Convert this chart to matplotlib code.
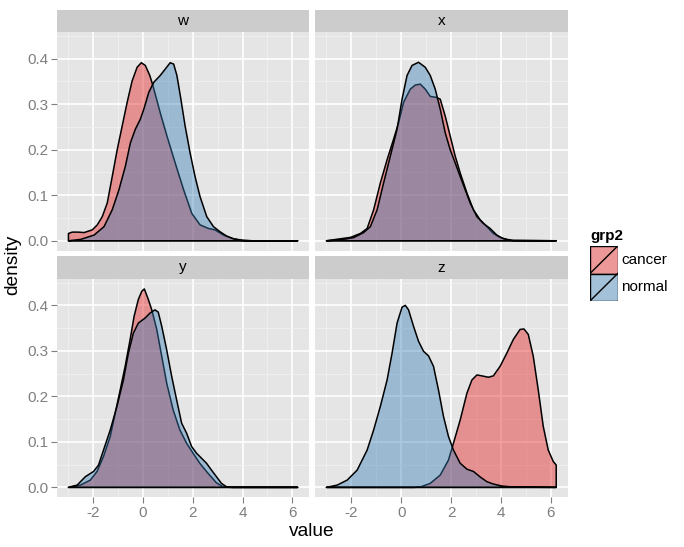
"""plot.py - faceted density plot, ggplot2 look"""

import matplotlib

matplotlib.use("Agg")
import matplotlib.pyplot as plt
from matplotlib.colors import to_rgba
from matplotlib.patches import Rectangle
import numpy as np

plt.rcParams["font.family"] = ["Liberation Sans", "DejaVu Sans"]

facets = ["w", "x", "y", "z"]
groups = ["cancer", "normal"]
group_colors = {"cancer": "#E41A1C", "normal": "#377EB8"}

# density curves (value, density)
w_cancer_x = [-3.0, -2.85, -2.6, -2.37, -2.04, -1.84, -1.64, -1.44, -1.24, -1.04, -0.84, -0.64, -0.44,
              -0.24, -0.07, 0.09, 0.27, 0.4, 0.69, 0.96, 1.29, 1.63, 1.96, 2.29, 2.63, 2.89, 3.23,
              3.63, 4.03, 4.4, 6.21]
w_cancer_d = [0.016, 0.019, 0.019, 0.018, 0.024, 0.035, 0.053, 0.083, 0.141, 0.2, 0.252, 0.304, 0.351,
              0.381, 0.391, 0.385, 0.363, 0.34, 0.281, 0.23, 0.171, 0.112, 0.06, 0.035, 0.027, 0.024,
              0.0125, 0.0044, 0.001, 0.0, 0.0]
w_normal_x = [-3.0, -2.51, -1.97, -1.57, -1.24, -0.97, -0.71, -0.51, -0.31, -0.11, 0.03, 0.23, 0.43,
              0.69, 0.89, 1.09, 1.23, 1.36, 1.52, 1.69, 1.89, 2.09, 2.29, 2.56, 2.83, 3.09, 3.36,
              3.63, 3.96, 4.3, 6.21]
w_normal_d = [0.0, 0.003, 0.0125, 0.031, 0.068, 0.112, 0.164, 0.215, 0.245, 0.267, 0.289, 0.326,
              0.348, 0.363, 0.377, 0.391, 0.388, 0.363, 0.311, 0.252, 0.193, 0.141, 0.097, 0.053,
              0.031, 0.02, 0.0103, 0.0044, 0.0007, 0.0, 0.0]

x_cancer_x = [-3.0, -2.44, -2.04, -1.64, -1.37, -1.11, -0.84, -0.57, -0.31, -0.11, 0.09, 0.36, 0.56,
              0.76, 0.96, 1.16, 1.4, 1.56, 1.76, 1.96, 2.16, 2.36, 2.63, 2.89, 3.16, 3.43, 3.69,
              3.96, 4.23, 4.49, 6.21]
x_cancer_d = [0.0, 0.0044, 0.0074, 0.016, 0.027, 0.068, 0.127, 0.178, 0.223, 0.259, 0.304, 0.333,
              0.342, 0.344, 0.333, 0.317, 0.315, 0.311, 0.274, 0.23, 0.186, 0.149, 0.105, 0.068,
              0.046, 0.031, 0.016, 0.0074, 0.003, 0.0007, 0.0]
x_normal_x = [-3.0, -2.31, -1.91, -1.51, -1.24, -0.97, -0.71, -0.44, -0.17, 0.03, 0.23, 0.43, 0.69,
              0.96, 1.16, 1.36, 1.56, 1.76, 1.96, 2.16, 2.36, 2.56, 2.76, 3.03, 3.29, 3.56, 3.83,
              4.09, 4.43, 6.21]
x_normal_d = [0.0, 0.003, 0.007, 0.018, 0.031, 0.068, 0.127, 0.186, 0.245, 0.311, 0.363, 0.385,
              0.392, 0.381, 0.363, 0.333, 0.289, 0.237, 0.2, 0.171, 0.141, 0.112, 0.083, 0.053,
              0.038, 0.027, 0.0125, 0.0044, 0.0007, 0.0]

y_cancer_x = [-3.0, -2.52, -2.12, -1.85, -1.59, -1.32, -1.12, -0.92, -0.72, -0.52, -0.36, -0.19,
              -0.05, 0.05, 0.21, 0.35, 0.55, 0.75, 0.95, 1.21, 1.48, 1.75, 2.01, 2.28, 2.61, 2.95,
              3.21, 3.5, 6.21]
y_cancer_d = [0.0, 0.005, 0.016, 0.035, 0.068, 0.112, 0.163, 0.214, 0.266, 0.325, 0.376, 0.413,
              0.431, 0.436, 0.413, 0.39, 0.347, 0.288, 0.229, 0.17, 0.126, 0.097, 0.075, 0.053,
              0.031, 0.01, 0.0015, 0.0, 0.0]
y_normal_x = [-3.0, -2.65, -2.32, -1.99, -1.79, -1.59, -1.32, -1.05, -0.79, -0.59, -0.39, -0.19,
              0.08, 0.28, 0.48, 0.61, 0.75, 0.95, 1.15, 1.35, 1.55, 1.75, 1.95, 2.15, 2.35, 2.55,
              2.75, 2.95, 3.15, 3.35, 3.6, 6.21]
y_normal_d = [0.0, 0.005, 0.0235, 0.035, 0.049, 0.082, 0.126, 0.178, 0.236, 0.295, 0.339, 0.361,
              0.372, 0.383, 0.39, 0.385, 0.354, 0.302, 0.244, 0.192, 0.141, 0.119, 0.09, 0.075,
              0.064, 0.053, 0.038, 0.0235, 0.0088, 0.0015, 0.0, 0.0]

z_cancer_x = [-3.0, 0.5, 0.76, 1.16, 1.56, 1.89, 2.09, 2.36, 2.63, 2.83, 3.03, 3.23, 3.49, 3.69,
              3.96, 4.23, 4.49, 4.76, 4.92, 5.09, 5.29, 5.49, 5.69, 5.89, 6.09, 6.21]
z_cancer_d = [0.0, 0.0, 0.0007, 0.0088, 0.027, 0.06, 0.097, 0.148, 0.207, 0.236, 0.247, 0.245,
              0.242, 0.245, 0.266, 0.295, 0.325, 0.347, 0.348, 0.336, 0.288, 0.214, 0.134, 0.082,
              0.057, 0.049]
z_normal_x = [-3.0, -2.57, -2.17, -1.77, -1.37, -1.11, -0.84, -0.57, -0.37, -0.17, 0.03, 0.16,
              0.29, 0.49, 0.69, 0.89, 1.09, 1.29, 1.49, 1.69, 1.89, 2.09, 2.36, 2.63, 2.89, 3.16,
              3.43, 3.69, 4.03, 4.49, 6.21]
z_normal_d = [0.0, 0.005, 0.016, 0.038, 0.082, 0.126, 0.178, 0.236, 0.295, 0.361, 0.396, 0.4,
              0.39, 0.354, 0.321, 0.299, 0.289, 0.266, 0.214, 0.156, 0.112, 0.082, 0.053, 0.04,
              0.035, 0.023, 0.0125, 0.0073, 0.003, 0.0007, 0.0]

curves = {
    ("w", "cancer"): (w_cancer_x, w_cancer_d),
    ("w", "normal"): (w_normal_x, w_normal_d),
    ("x", "cancer"): (x_cancer_x, x_cancer_d),
    ("x", "normal"): (x_normal_x, x_normal_d),
    ("y", "cancer"): (y_cancer_x, y_cancer_d),
    ("y", "normal"): (y_normal_x, y_normal_d),
    ("z", "cancer"): (z_cancer_x, z_cancer_d),
    ("z", "normal"): (z_normal_x, z_normal_d),
}

x_major = [-2, 0, 2, 4, 6]
x_minor = [-3, -1, 1, 3, 5]
y_major = [0.0, 0.1, 0.2, 0.3, 0.4]
y_minor = [0.05, 0.15, 0.25, 0.35, 0.45]

W, H = 684, 547
GREY = "#7F7F7F"
SMALL = 11
BIG = 13.75
fig = plt.figure(figsize=(W / 100, H / 100), dpi=100)


def px_axes(left, top, right, bottom):
    """axes placed by pixel box"""
    return fig.add_axes([left / W, 1 - bottom / H, (right - left) / W, (bottom - top) / H])


# (left, right) columns and (strip top, panel top, panel bottom) rows
cols = [(57, 309), (315, 567.7)]
rows = [(10, 32.3, 250.7), (256, 279, 497.3)]

for i, facet in enumerate(facets):
    r, c = divmod(i, 2)
    left, right = cols[c]
    s_top, p_top, p_bot = rows[r]

    strip = px_axes(left, s_top, right, p_top)
    strip.set_facecolor("#CCCCCC")
    strip.set_xticks([])
    strip.set_yticks([])
    for sp in strip.spines.values():
        sp.set_visible(False)
    strip.text(0.5, 0.5, facet, ha="center", va="center", fontsize=SMALL,
               color="black", transform=strip.transAxes)

    ax = px_axes(left, p_top, right, p_bot)
    ax.set_facecolor("#E5E5E5")
    for sp in ax.spines.values():
        sp.set_visible(False)
    ax.set_xlim(-3.46, 6.67)
    ax.set_ylim(-0.0218, 0.4578)
    ax.set_xticks(x_major)
    ax.set_xticks(x_minor, minor=True)
    ax.set_yticks(y_major)
    ax.set_yticks(y_minor, minor=True)
    ax.set_xticklabels([str(v) for v in x_major])
    ax.set_yticklabels([f"{v:.1f}" for v in y_major])
    ax.grid(which="major", color="white", lw=1.2)
    ax.grid(which="minor", color="#F2F2F2", lw=0.55)
    ax.set_axisbelow(True)
    ax.tick_params(which="minor", length=0)
    ax.tick_params(which="major", length=4, width=0.8, color=GREY, labelcolor=GREY,
                   labelsize=SMALL, pad=2)
    if r == 0:
        ax.tick_params(bottom=False, labelbottom=False)
    if c == 1:
        ax.tick_params(left=False, labelleft=False)

    for g in groups:
        xs, ds = curves[(facet, g)]
        px = np.r_[xs[0], xs, xs[-1]]
        py = np.r_[0.0, ds, 0.0]
        ax.fill(px, py, facecolor=to_rgba(group_colors[g], 0.42),
                edgecolor="black", lw=1.1, joinstyle="round", zorder=3)

fig.text(312 / W, 1 - 532 / H, "value", ha="center", va="center", fontsize=BIG)
fig.text(13 / W, 1 - 265 / H, "density", ha="center", va="center", fontsize=BIG,
         rotation=90)

# legend
fig.text(590 / W, 1 - 236 / H, "grp2", ha="left", va="center", fontsize=SMALL,
         fontweight="bold")
leg = px_axes(590, 246, 617.7, 301)
leg.set_xlim(0, 1)
leg.set_ylim(0, len(groups))
leg.axis("off")
for k, g in enumerate(groups):
    y0 = len(groups) - 1 - k
    leg.add_patch(Rectangle((0, y0), 1, 1, facecolor="#F2F2F2", edgecolor="none"))
    leg.add_patch(Rectangle((0, y0), 1, 1, facecolor=to_rgba(group_colors[g], 0.42),
                            edgecolor="black", lw=1.0))
    leg.plot([0, 1], [y0, y0 + 1], color="black", lw=1.0)
    fig.text(621 / W, 1 - (259.7 + 27.5 * k) / H, g, ha="left", va="center",
             fontsize=SMALL)

fig.savefig("out.png", dpi=100)
